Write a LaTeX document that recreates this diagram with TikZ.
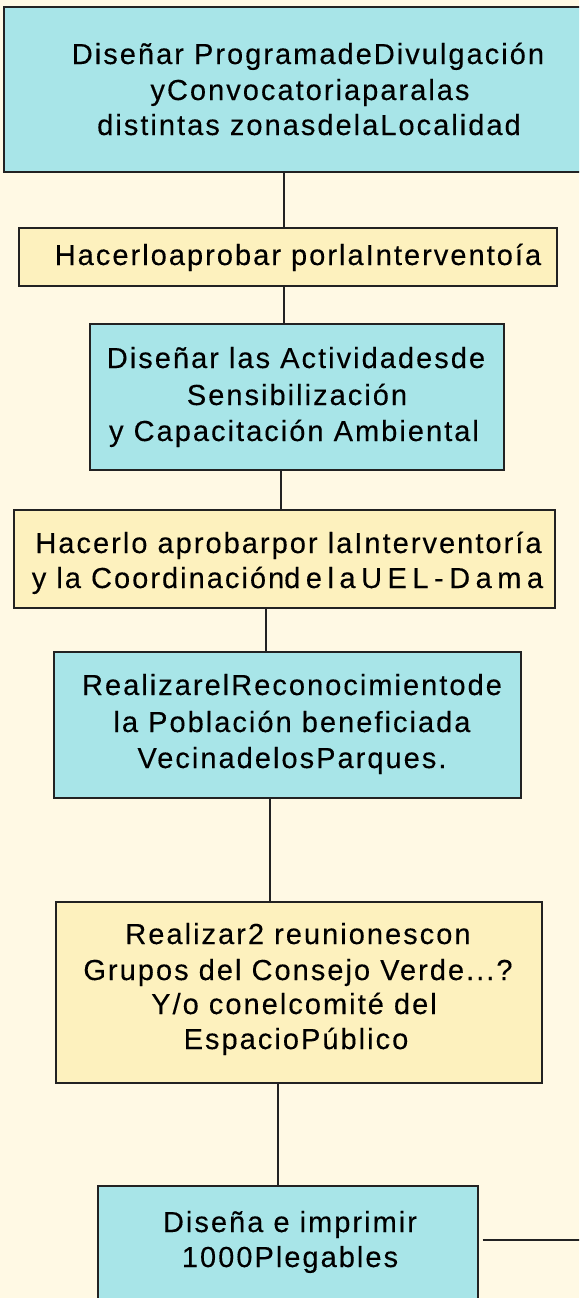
\documentclass[tikz,border=0pt]{standalone}
\usepackage{fontspec}
\setmainfont{Liberation Sans}
\newfontfamily\bxf{Liberation Sans}[LetterSpace=7,FakeBold=0.25]
\newfontfamily\bxw{Liberation Sans}[LetterSpace=19,FakeBold=0.25]
\definecolor{bgc}{RGB}{255,249,228}
\definecolor{cyanb}{RGB}{168,229,232}
\definecolor{yelb}{RGB}{253,241,190}
\definecolor{lnc}{RGB}{34,34,34}
\tikzset{
  boxb/.style={rectangle, draw=lnc, line width=2pt, inner sep=0pt},
  cyb/.style={boxb, fill=cyanb},
  yeb/.style={boxb, fill=yelb},
  txt/.style={anchor=base, inner sep=0pt, text=black, font=\bxf\fontsize{29}{34}\selectfont},
  conn/.style={draw=lnc, line width=2pt}
}
\begin{document}
\begin{tikzpicture}[x=1pt,y=-1pt]
\useasboundingbox (0,0) rectangle (579,1298);
\clip (0,0) rectangle (579,1298);
\fill[bgc] (0,0) rectangle (579,1298);
% boxes
\node[cyb, minimum width=608.5pt, minimum height=165pt] (b1) at (307.75,89.5) {};
\node[yeb, minimum width=538pt, minimum height=58pt] (b2) at (288,257) {};
\node[cyb, minimum width=414pt, minimum height=146pt] (b3) at (297,397) {};
\node[yeb, minimum width=541pt, minimum height=98pt] (b4) at (284.5,559) {};
\node[cyb, minimum width=467pt, minimum height=146pt] (b5) at (287.5,725) {};
\node[yeb, minimum width=486pt, minimum height=181pt] (b6) at (299,992.5) {};
\node[cyb, minimum width=380pt, minimum height=144pt] (b7) at (288,1258) {};
% texts
\node[txt] (t1a) at (308,64) {Diseñar ProgramadeDivulgación};
\node[txt] (t1b) at (310,100) {yConvocatoriaparalas};
\node[txt] (t1c) at (309,135) {distintas zonasdelaLocalidad};
\node[txt] (t2a) at (298,265) {Hacerloaprobar porlaInterventoía};
\node[txt] (t3a) at (296,368) {Diseñar las Actividadesde};
\node[txt] (t3b) at (297,405) {Sensibilización};
\node[txt] (t3c) at (294,441) {y Capacitación Ambiental};
\node[txt] (t4a) at (288.5,553) {Hacerlo aprobarpor laInterventoría};
\node[txt] (t4b) at (287.5,588) {y la Coordinación{\bxw\fontsize{29}{34}\selectfont delaUEL-Dama}};
\node[txt] (t5a) at (292,695) {RealizarelReconocimientode};
\node[txt] (t5b) at (292,732) {la Población beneficiada};
\node[txt] (t5c) at (292,768) {VecinadelosParques.};
\node[txt] (t6a) at (298,944) {Realizar2 reunionescon};
\node[txt] (t6b) at (298,980) {Grupos del Consejo Verde...?};
\node[txt] (t6c) at (294,1014) {Y/o conelcomité del};
\node[txt] (t6d) at (296,1049) {EspacioPúblico};
\node[txt] (t7a) at (290,1232) {Diseña e imprimir};
\node[txt] (t7b) at (290,1267) {1000Plegables};
% connectors
\coordinate (x1) at (284,0);
\coordinate (x2) at (284,0);
\coordinate (x3) at (280.5,0);
\coordinate (x4) at (266,0);
\coordinate (x5) at (270,0);
\coordinate (x6) at (278,0);
\coordinate (rend) at (581,1240);
\draw[conn] (b1.south -| x1) -- (b2.north -| x1);
\draw[conn] (b2.south -| x2) -- (b3.north -| x2);
\draw[conn] (b3.south -| x3) -- (b4.north -| x3);
\draw[conn] (b4.south -| x4) -- (b5.north -| x4);
\draw[conn] (b5.south -| x5) -- (b6.north -| x5);
\draw[conn] (b6.south -| x6) -- (b7.north -| x6);
\draw[conn] ([xshift=3.5pt]b7.east |- rend) -- (rend);
\end{tikzpicture}
\end{document}
